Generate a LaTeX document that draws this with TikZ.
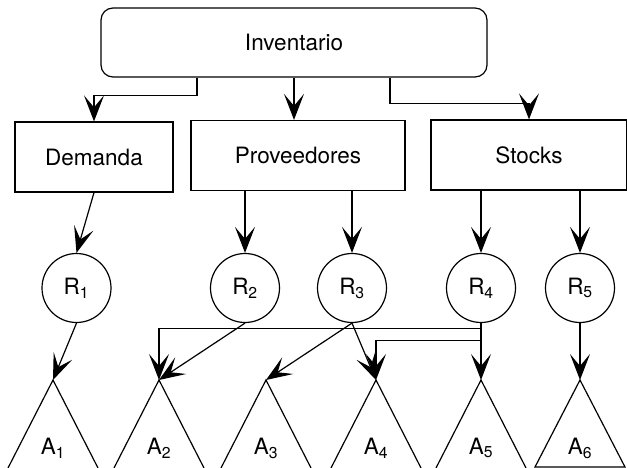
\documentclass[tikz,border=0pt]{standalone}
\usepackage{fontspec}
\setmainfont{TeX Gyre Heros}
\usetikzlibrary{arrows.meta,calc}

\tikzset{
  box/.style={draw, line width=1.2pt, inner sep=0pt, minimum width=#1, minimum height=70pt},
  rnode/.style={draw, circle, line width=1.2pt, inner sep=0pt, minimum size=69pt},
  arr/.style={line width=1.2pt, -{Stealth[length=26pt,width=20pt,inset=12pt]}},
  tri/.style={line width=1.2pt, line join=miter},
}

\begin{document}
\begin{tikzpicture}[x=1pt, y=-1pt, font=\fontsize{22.5}{27}\selectfont]

\useasboundingbox (0,0) rectangle (627,468);

% --- Top level ---
\node[box=386pt, minimum height=69pt, rounded corners=12pt] (inv) at (294,42.5) {Inventario};

% --- Second level ---
\node[box=158pt] (dem)  at (94,157)    {Demanda};
\node[box=214pt] (prov) at (298,155.5) {Proveedores};
\node[box=196pt] (sto)  at (529,155)   {Stocks};

\draw[arr] ([xshift=-97pt]inv.south) -- ++(0,18) -| (dem.north);
\draw[arr] (inv.south) -- (inv.south |- prov.north);
\draw[arr] ([xshift=96pt]inv.south) -- ++(0,26) -| (sto.north);

% --- Resources ---
\node[rnode] (R1) at (76.5,288) {R\textsubscript{1}};
\node[rnode] (R2) at (245,288)  {R\textsubscript{2}};
\node[rnode] (R3) at (352,288)  {R\textsubscript{3}};
\node[rnode] (R4) at (481,288)  {R\textsubscript{4}};
\node[rnode] (R5) at (580,288)  {R\textsubscript{5}};

\draw[arr] (dem.south) -- (R1.north);
\draw[arr] (prov.south -| R2.north) -- (R2.north);
\draw[arr] (prov.south -| R3.north) -- (R3.north);
\draw[arr] (sto.south -| R4.north) -- (R4.north);
\draw[arr] (sto.south -| R5.north) -- (R5.north);

% --- Activities (triangles, apex a1..a6) ---
\def\triH{88}   % apex to bottom edge
\def\triW{45}   % half base
\foreach \i/\x in {1/53, 2/159, 3/266, 4/376, 5/481, 6/580}{
  \coordinate (a\i) at (\x,380);
  \node (A\i) at (\x,448) {A\textsubscript{\i}};
}
\foreach \i in {1,...,5}{
  \draw[tri] ($(a\i)+(-\triW,\triH)$) -- (a\i) -- ($(a\i)+(\triW,\triH)$);
}
\draw[tri] ($(a6)+(-\triW,87)$) -- (a6) -- ($(a6)+(\triW,87)$) -- cycle;

% --- Resource to activity links ---
\draw[arr] (R1.south) -- (a1);
\draw[arr] (R2.south) -- (a2);
\draw[arr] (R3.south) -- (a3);
\draw[arr] (R3.south) -- (a4);
\draw[arr] (R4.south) -- ++(0,5) -| (a2);
\draw[arr] (R4.south) -- ++(0,17) -| (a4);
\draw[arr] (R4.south) -- (a5);
\draw[arr] (R5.south) -- (a6);

\end{tikzpicture}
\end{document}
